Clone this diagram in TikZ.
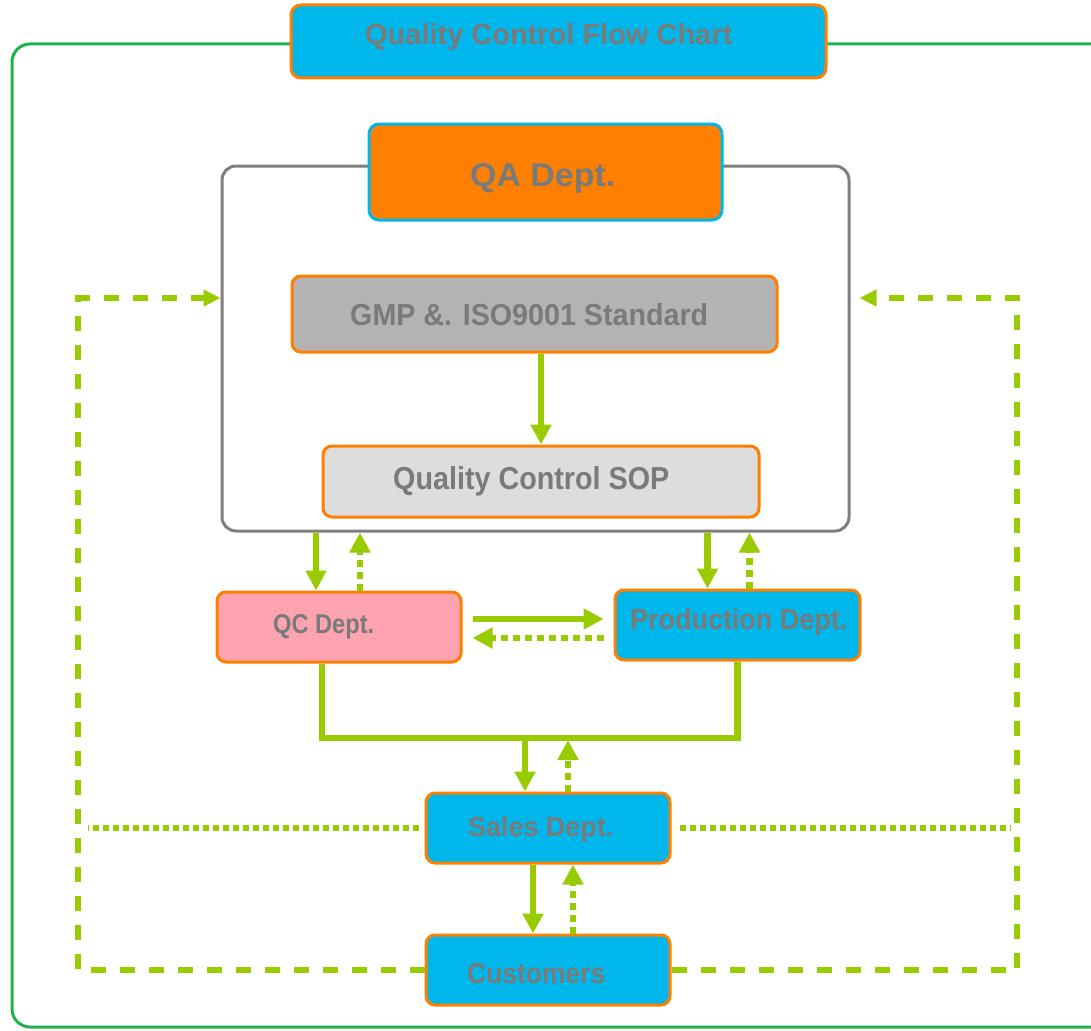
\documentclass[tikz,border=0pt]{standalone}
\usepackage{fontspec}
\setmainfont{Liberation Sans}
\usetikzlibrary{arrows.meta,calc}
\definecolor{cyf}{HTML}{00B7EB}
\definecolor{orc}{HTML}{FF8000}
\definecolor{pinkf}{HTML}{FFA3B1}
\definecolor{grn}{HTML}{99CC00}
\definecolor{outg}{HTML}{22B14C}
\definecolor{frgray}{HTML}{7F7F7F}
\definecolor{txtgray}{HTML}{7A7A7A}
\definecolor{gmpf}{HTML}{B3B3B3}
\definecolor{sopf}{HTML}{DDDDDD}
\begin{document}
\begin{tikzpicture}[x=1pt,y=-1pt,
  box/.style={draw=orc, line width=3pt, rounded corners=9pt, inner sep=0pt},
  lbl/.style={anchor=base west, inner sep=0pt, text=txtgray, font=\bfseries},
  solidarr/.style={draw=grn, line width=6.5pt, -{Triangle[length=20pt,width=20pt]}},
  dotarr/.style={draw=grn, line width=6.5pt, dash pattern=on 7pt off 5pt, -{Triangle[length=20pt,width=20pt]}},
  busline/.style={draw=grn, line width=6.5pt},
  dashline/.style={draw=grn, line width=6.5pt, dash pattern=on 15pt off 14pt},
  dotline/.style={draw=grn, line width=6.5pt, dash pattern=on 6pt off 4pt},
  tip/.style={-{Triangle[length=17pt,width=16pt]}},
]
\clip (0,0) rectangle (1091,1030);
\fill[white] (0,0) rectangle (1091,1030);
% outer green frame
\draw[draw=outg, line width=3pt, rounded corners=18pt] (12,44) rectangle (1120,1027);

% title
\node[box, fill=cyf, minimum width=535pt, minimum height=73pt, rounded corners=10pt] (title) at (558.5,41.5) {};
\node[lbl] (titlet) at (365,45) {\resizebox{367pt}{21pt}{Quality Control Flow Chart}};

% QA frame
\node[draw=frgray, line width=3pt, rounded corners=14pt, minimum width=627pt, minimum height=365pt, inner sep=0pt] (qaframe) at (535.5,348.5) {};
\node[box, draw=cyf, fill=orc, minimum width=353pt, minimum height=96pt, rounded corners=10pt] (qa) at (545.5,172) {};
\node[lbl] (qat) at (470,186) {\resizebox{145pt}{23pt}{QA Dept.}};

\node[box, fill=gmpf, minimum width=485pt, minimum height=76pt] (gmp) at (534.5,314) {};
\node[lbl] (gmpt) at (350,325) {\resizebox{358pt}{22pt}{GMP \&. ISO9001 Standard}};

\node[box, fill=sopf, minimum width=436pt, minimum height=71pt] (sop) at (541,481.5) {};
\node[lbl] (sopt) at (393,489) {\resizebox{276pt}{23pt}{Quality Control SOP}};

\node[box, fill=pinkf, minimum width=244pt, minimum height=70pt] (qc) at (339,627) {};
\node[lbl] (qct) at (273,633) {\resizebox{101pt}{19pt}{QC Dept.}};

\node[box, fill=cyf, minimum width=245pt, minimum height=70pt] (prod) at (737.5,625) {};
\node[lbl] (prodt) at (630,629) {\resizebox{217pt}{21pt}{Production Dept.}};

\node[box, fill=cyf, minimum width=244pt, minimum height=70pt] (sales) at (548,828) {};
\node[lbl] (salest) at (468,836) {\resizebox{145pt}{20pt}{Sales Dept.}};

\node[box, fill=cyf, minimum width=244pt, minimum height=70pt] (cust) at (548,970) {};
\node[lbl] (custt) at (467,983) {\resizebox{138pt}{20pt}{Customers}};

% helper coordinates
\coordinate (bus) at (0,738);
\coordinate (lx) at (78,0);
\coordinate (rx) at (1017,0);
\coordinate (topy) at (0,298);
\coordinate (ldx) at (88,0);
\coordinate (rdx) at (1010,0);

% GMP -> SOP
\draw[solidarr] (sop.north |- gmp.south) -- (sop.north);

% frame <-> QC / Production
\draw[solidarr] ([xshift=-23pt]qc.north |- qaframe.south) -- ([xshift=-23pt]qc.north);
\draw[dotarr] ([xshift=21pt]qc.north) -- ([xshift=21pt]qc.north |- qaframe.south);
\draw[solidarr] ([xshift=-30pt]prod.north |- qaframe.south) -- ([xshift=-30pt]prod.north);
\draw[dotarr] ([xshift=12pt]prod.north) -- ([xshift=12pt]prod.north |- qaframe.south);

% QC <-> Production
\draw[solidarr] ([xshift=10pt,yshift=8pt]qc.east) -- ([xshift=-10pt,yshift=8pt]qc.east -| prod.west);
\draw[dotarr] ([xshift=-10pt,yshift=-11pt]qc.east -| prod.west) -- ([xshift=10pt,yshift=-11pt]qc.east);

% bus
\draw[busline] ([xshift=-17pt]qc.south) |- (prod.south |- bus) -- (prod.south);
\draw[solidarr] ([xshift=-23pt]sales.north |- bus) -- ([xshift=-23pt]sales.north);
\draw[dotarr] ([xshift=20pt]sales.north) -- ([xshift=20pt,yshift=-2pt]sales.north |- bus);

% Sales <-> Customers
\draw[solidarr] ([xshift=-15pt]sales.south) -- ([xshift=-15pt]cust.north);
\draw[dotarr] ([xshift=25pt]cust.north) -- ([xshift=25pt]sales.south);

% dotted from Sales
\draw[dotline] ([xshift=-6pt]sales.west) -- (sales.west -| ldx);
\draw[dotline] ([xshift=8pt]sales.east) -- (sales.east -| rdx);

% dashed feedback loops
\draw[dashline, tip] (cust.west) -- (cust.west -| lx) -- (lx |- topy) -- (qaframe.west |- topy);
\draw[dashline, tip] (cust.east) -- (cust.east -| rx) -- (rx |- topy) -- ([xshift=9pt]qaframe.east |- topy);
\end{tikzpicture}
\end{document}
